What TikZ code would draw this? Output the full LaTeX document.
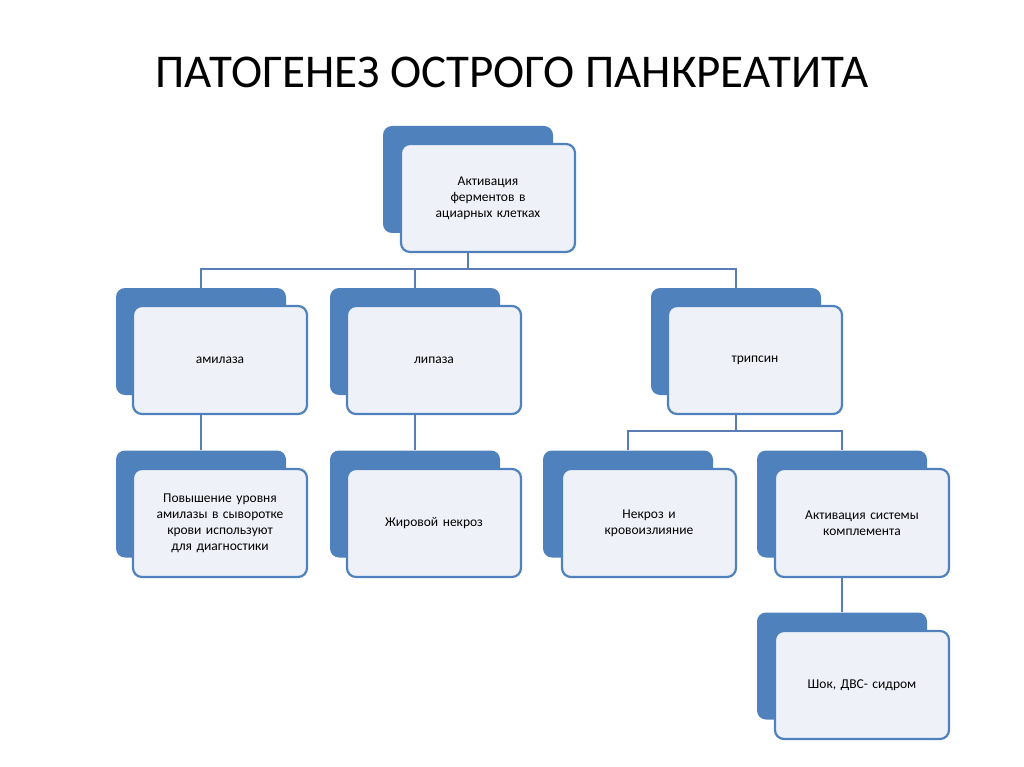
\documentclass[tikz,border=0pt]{standalone}
\usepackage{fontspec}
\setmainfont{Carlito}
\definecolor{bl}{HTML}{4F81BD}
\definecolor{lf}{HTML}{EEF2F8}
\definecolor{ln}{HTML}{5B7DB5}
\begin{document}
\begin{tikzpicture}[x=1pt,y=-1pt,
 backbox/.style={fill=bl,rounded corners=9pt,minimum width=170pt,minimum height=107pt,inner sep=0pt},
 frontbox/.style={draw=bl,fill=lf,line width=2.2pt,rounded corners=9pt,minimum width=174pt,minimum height=108pt,text width=150pt,align=center,font=\fontsize{13.5}{16}\selectfont,inner sep=0pt},
 conn/.style={draw=ln,line width=1.8pt}]
\useasboundingbox (0,0) rectangle (1024,767);
\node[font=\fontsize{47}{50}\selectfont] (title) at (512,72) {ПАТОГЕНЕЗ ОСТРОГО ПАНКРЕАТИТА};
% back boxes
\node[backbox] (topb) at (468,179.5) {};
\node[backbox] (amib) at (201,341.5) {};
\node[backbox] (lipb) at (415,341.5) {};
\node[backbox] (tryb) at (736,341.5) {};
\node[backbox] (povb) at (201,504) {};
\node[backbox] (zhib) at (415,504) {};
\node[backbox] (nekb) at (628,504) {};
\node[backbox] (aktb) at (842,504) {};
\node[backbox] (shob) at (842,666) {};
% front boxes
\node[frontbox] (top) at (488,198) {Активация\\ферментов в\\ациарных клетках};
\node[frontbox] (ami) at (220,360) {амилаза};
\node[frontbox] (lip) at (434,360) {липаза};
\node[frontbox] (try) at (755,360) {трипсин};
\node[frontbox] (pov) at (220,523) {Повышение уровня амилазы в сыворотке крови используют для диагностики};
\node[frontbox] (zhi) at (434,523) {Жировой некроз};
\node[frontbox] (nek) at (649,523) {Некроз и\\кровоизлияние};
\node[frontbox] (akt) at (862,523) {Активация системы\\комплемента};
\node[frontbox] (sho) at (862,685) {Шок, ДВС- сидром};
% connectors
\coordinate (j1) at (468,269);
\draw[conn] (topb.south |- top.south) -- (j1);
\draw[conn] (amib.north) |- (j1) -| (tryb.north);
\draw[conn] (j1) -| (lipb.north);
\draw[conn] (amib.south |- ami.south) -- (povb.north);
\draw[conn] (lipb.south |- lip.south) -- (zhib.north);
\coordinate (j2) at (736,431);
\draw[conn] (tryb.south |- try.south) -- (j2);
\draw[conn] (nekb.north) |- (j2) -| (aktb.north);
\draw[conn] (aktb.south |- akt.south) -- (shob.north);
\end{tikzpicture}
\end{document}
